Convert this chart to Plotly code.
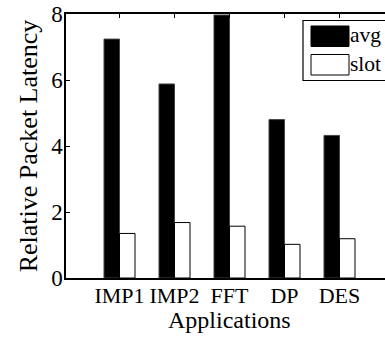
import plotly.graph_objects as go

categories = ["IMP1", "IMP2", "FFT", "DP", "DES"]
avg_values = [7.24, 5.88, 7.97, 4.80, 4.32]
slot_values = [1.35, 1.68, 1.57, 1.02, 1.19]
series_names = ["avg", "slot"]
y_ticks = [0, 2, 4, 6, 8]

W, H = 385, 337
L, T, B = 66, 14, 278  # plot area pixel bounds (right edge runs off the figure)
FONT = "Liberation Serif"

def px_x(p):
    return (p - L) / (W - L)

def px_y(p):
    return (B - p) / (B - T)

fig = go.Figure()
fig.add_trace(go.Bar(x=categories, y=avg_values, name=series_names[0],
                     marker=dict(color="black", line=dict(color="#444", width=1)),
                     showlegend=False))
fig.add_trace(go.Bar(x=categories, y=slot_values, name=series_names[1],
                     marker=dict(color="white", line=dict(color="black", width=1)),
                     showlegend=False))

step = 55.0
first = 119.5
x0 = -(first - L) / step
x1 = x0 + (W - L) / step

fig.update_layout(
    width=W, height=H,
    margin=dict(l=L, r=0, t=T, b=H - B, pad=0),
    paper_bgcolor="white", plot_bgcolor="white",
    barmode="group", bargap=0.436, bargroupgap=0,
    font=dict(family=FONT, size=22, color="black"),
    xaxis=dict(type="category", range=[x0, x1], showline=True, linecolor="black",
               linewidth=1.5, mirror="allticks", ticks="inside", ticklen=4,
               tickcolor="black", showgrid=False, zeroline=False,
               tickfont=dict(size=22), ticklabelstandoff=-3),
    yaxis=dict(range=[0, 8], tickvals=y_ticks, showline=True, linecolor="black",
               linewidth=1.5, mirror=False, ticks="inside", ticklen=4,
               tickcolor="black", showgrid=False, zeroline=False,
               tickfont=dict(size=23), ticklabelstandoff=-3,
               title=dict(text="Relative Packet Latency", font=dict(size=26), standoff=6)),
)

# x-axis title
fig.add_annotation(text="Applications", xref="paper", yref="paper",
                   x=px_x(229), y=px_y(320), xanchor="center", yanchor="middle",
                   showarrow=False, font=dict(size=24))

# legend (box + swatches + labels)
fig.add_shape(type="rect", xref="paper", yref="paper",
              x0=px_x(303), x1=px_x(400), y0=px_y(80.5), y1=px_y(20.5),
              line=dict(color="black", width=1.2), fillcolor="white", layer="above")
swatch_fill = ["black", "white"]
rows = [(26, 46.5), (54.5, 75)]
for name, fill, (ya, yb) in zip(series_names, swatch_fill, rows):
    fig.add_shape(type="rect", xref="paper", yref="paper",
                  x0=px_x(311), x1=px_x(349), y0=px_y(yb), y1=px_y(ya),
                  line=dict(color="black", width=1), fillcolor=fill, layer="above")
    fig.add_annotation(text=name, xref="paper", yref="paper",
                       x=px_x(348), y=px_y((ya + yb) / 2 - 1), xanchor="left",
                       yanchor="middle", showarrow=False, font=dict(size=21.5))

fig.write_html("out.html")
